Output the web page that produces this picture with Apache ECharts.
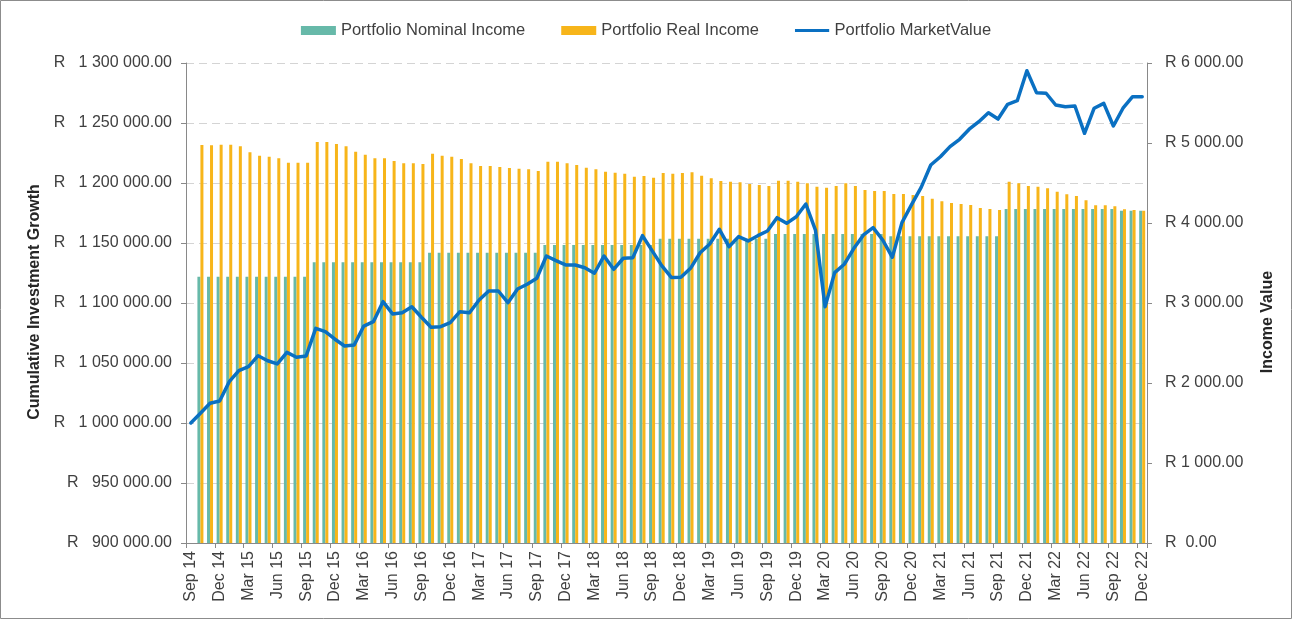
<!DOCTYPE html>
<html>
<head>
<meta charset="utf-8">
<script src="https://cdn.jsdelivr.net/npm/echarts@6/dist/echarts.min.js"></script>
<style>
html,body{margin:0;padding:0;background:#fff;}
#chart{width:1292px;height:619px;}
</style>
</head>
<body>
<div id="chart"></div>
<script>
var categories = [
'Sep 14','Oct 14','Nov 14','Dec 14','Jan 15','Feb 15','Mar 15','Apr 15','May 15','Jun 15','Jul 15','Aug 15',
'Sep 15','Oct 15','Nov 15','Dec 15','Jan 16','Feb 16','Mar 16','Apr 16','May 16','Jun 16','Jul 16','Aug 16',
'Sep 16','Oct 16','Nov 16','Dec 16','Jan 17','Feb 17','Mar 17','Apr 17','May 17','Jun 17','Jul 17','Aug 17',
'Sep 17','Oct 17','Nov 17','Dec 17','Jan 18','Feb 18','Mar 18','Apr 18','May 18','Jun 18','Jul 18','Aug 18',
'Sep 18','Oct 18','Nov 18','Dec 18','Jan 19','Feb 19','Mar 19','Apr 19','May 19','Jun 19','Jul 19','Aug 19',
'Sep 19','Oct 19','Nov 19','Dec 19','Jan 20','Feb 20','Mar 20','Apr 20','May 20','Jun 20','Jul 20','Aug 20',
'Sep 20','Oct 20','Nov 20','Dec 20','Jan 21','Feb 21','Mar 21','Apr 21','May 21','Jun 21','Jul 21','Aug 21',
'Sep 21','Oct 21','Nov 21','Dec 21','Jan 22','Feb 22','Mar 22','Apr 22','May 22','Jun 22','Jul 22','Aug 22',
'Sep 22','Oct 22','Nov 22','Dec 22'
];

var nominalIncome = [
null,3329,3329,3329,3329,3329,3329,3329,3329,3329,3329,3329,
3329,3508,3508,3508,3508,3508,3508,3508,3508,3508,3508,3508,
3508,3629,3629,3629,3629,3629,3629,3629,3629,3629,3629,3629,
3629,3725,3725,3725,3725,3725,3725,3725,3725,3725,3725,3725,
3725,3804,3804,3804,3804,3804,3804,3804,3804,3804,3804,3804,
3804,3862,3862,3862,3862,3862,3862,3862,3862,3862,3862,3862,
3862,3835,3835,3835,3835,3835,3835,3835,3835,3835,3835,3835,
3835,4175,4175,4175,4175,4175,4175,4175,4175,4175,4175,4175,
4175,4154,4154,4154
];

var realIncome = [
null,4975,4971,4979,4979,4958,4883,4842,4829,4808,4754,4754,
4754,5012,5012,4988,4958,4892,4854,4808,4808,4775,4746,4746,
4738,4867,4842,4829,4800,4746,4713,4713,4700,4688,4679,4671,
4650,4767,4767,4746,4725,4692,4671,4642,4629,4617,4579,4588,
4567,4625,4617,4625,4633,4592,4558,4525,4517,4508,4488,4475,
4463,4529,4529,4517,4496,4454,4442,4463,4496,4463,4413,4400,
4400,4363,4363,4350,4338,4304,4271,4250,4238,4225,4188,4175,
4163,4517,4496,4463,4454,4433,4392,4358,4338,4283,4221,4221,
4208,4171,4163,4154
];

var marketValue = [
1000000,1008100,1016400,1018300,1034400,1043600,1046900,1056100,1051900,1049200,1058900,1054800,
1055800,1078900,1076100,1069800,1064200,1065000,1080800,1084400,1101100,1090800,1091900,1096900,
1088100,1079800,1080300,1083600,1092800,1091900,1102500,1110000,1110000,1100300,1111700,1115600,
1120600,1139200,1135300,1131700,1131700,1129400,1124800,1139200,1128100,1137300,1137800,1156100,
1143600,1131100,1121300,1121400,1128900,1141900,1149200,1161400,1146900,1155300,1151700,1156100,
1160000,1171100,1166400,1171900,1182500,1160800,1096900,1125300,1132300,1145600,1156700,1162800,
1152500,1138100,1167000,1182000,1196400,1215000,1221900,1230300,1236400,1244800,1251100,1258600,
1253300,1265600,1268600,1293600,1275300,1274800,1265000,1263600,1264200,1241400,1262300,1266400,
1247500,1262300,1271900,1271900
];

var leftTicks = {min: 900000, max: 1300000, interval: 50000};
var rightTicks = {min: 0, max: 6000, interval: 1000};

function fmtNum(v){
  var s = Math.abs(v).toFixed(2);
  var parts = s.split('.');
  var intPart = parts[0].replace(/\B(?=(\d{3})+(?!\d))/g, ' ');
  return intPart + '.' + parts[1];
}

var FONT = "'Liberation Sans', Arial, sans-serif";
var TXT = '#404040';
var AXIS = '#898989';
var TITLE = '#262626';

var chart = echarts.init(document.getElementById('chart'), null, {renderer:'canvas'});
chart.setOption({
  animation: false,
  backgroundColor: '#ffffff',
  textStyle: {fontFamily: FONT, color: TXT},
  graphic: [{
    type: 'rect', silent: true,
    shape: {x: 0.5, y: 0.5, width: 1291, height: 618},
    style: {fill: 'none', stroke: '#8c8c8c', lineWidth: 1}
  },{
    type: 'text', silent: true,
    x: 35, y: 302, rotation: Math.PI/2,
    style: {text: 'Cumulative Investment Growth', fontFamily: FONT, fontSize: 16, fontWeight: 'bold',
      fill: TITLE, align: 'center', verticalAlign: 'middle'}
  },{
    type: 'text', silent: true,
    x: 1268, y: 322, rotation: Math.PI/2,
    style: {text: 'Income Value', fontFamily: FONT, fontSize: 16, fontWeight: 'bold',
      fill: TITLE, align: 'center', verticalAlign: 'middle'}
  }],
  legend: {
    top: 17, left: 'center',
    itemWidth: 35, itemHeight: 9, itemGap: 36,
    textStyle: {fontFamily: FONT, fontSize: 16.5, color: TXT},
    data: [
      {name: 'Portfolio Nominal Income', icon: 'rect'},
      {name: 'Portfolio Real Income', icon: 'rect'},
      {name: 'Portfolio MarketValue', icon: 'path://M0,0 M0,10 M0,3.3 L38,3.3 L38,6.7 L0,6.7 Z'}
    ]
  },
  grid: {left: 186, right: 145, top: 63, bottom: 76, containLabel: false, outerBoundsMode: 'none'},
  xAxis: {
    type: 'category',
    data: categories,
    boundaryGap: true,
    axisLine: {lineStyle: {color: AXIS, width: 1}},
    axisTick: {show: true, interval: 2, length: 5, lineStyle: {color: AXIS}},
    axisLabel: {interval: 2, rotate: 90, margin: 8, fontFamily: FONT, fontSize: 16, color: TXT}
  },
  yAxis: [{
    type: 'value',
    min: leftTicks.min, max: leftTicks.max, interval: leftTicks.interval,
    position: 'left',
    axisLine: {show: true, lineStyle: {color: AXIS}},
    axisTick: {show: true, length: 5, lineStyle: {color: AXIS}},
    axisLabel: {margin: 14, fontFamily: FONT, fontSize: 16, color: TXT,
      formatter: function(v){ return 'R   ' + fmtNum(v); }},
    splitLine: {show: true, lineStyle: {color: '#d4d4d4', type: [8,5], width: 1}}
  },{
    type: 'value',
    min: rightTicks.min, max: rightTicks.max, interval: rightTicks.interval,
    position: 'right',
    axisLine: {show: true, lineStyle: {color: AXIS}},
    axisTick: {show: true, length: 5, lineStyle: {color: AXIS}},
    axisLabel: {margin: 18, fontFamily: FONT, fontSize: 16, color: TXT,
      formatter: function(v){ return v === 0 ? 'R  0.00' : 'R ' + fmtNum(v); }},
    splitLine: {show: false}
  }],
  series: [{
    name: 'Portfolio Nominal Income',
    type: 'bar', yAxisIndex: 1,
    data: nominalIncome,
    barWidth: 3, barGap: '0%',
    itemStyle: {color: '#67b9a9'}
  },{
    name: 'Portfolio Real Income',
    type: 'bar', yAxisIndex: 1,
    data: realIncome,
    barWidth: 3,
    itemStyle: {color: '#f7b51a'}
  },{
    name: 'Portfolio MarketValue',
    type: 'line', yAxisIndex: 0,
    data: marketValue,
    symbol: 'none', showSymbol: false,
    lineStyle: {color: '#0a70c2', width: 3.5, join: 'round', cap: 'round'},
    itemStyle: {color: '#0a70c2'},
    z: 5
  }]
});
</script>
</body>
</html>
